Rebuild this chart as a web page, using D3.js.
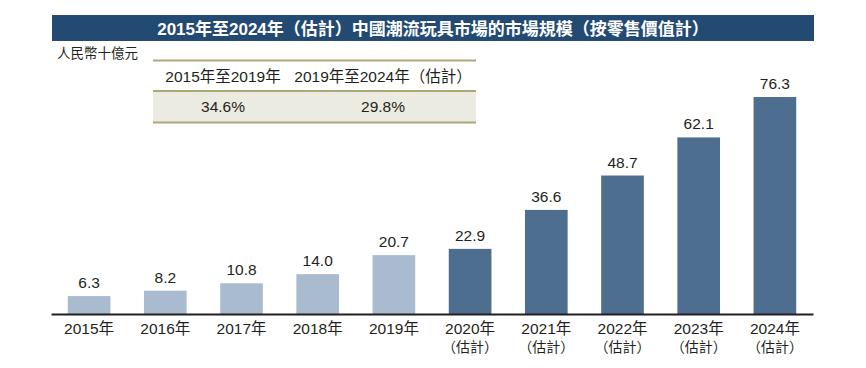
<!DOCTYPE html>
<html>
<head>
<meta charset="utf-8">
<script src="https://cdn.jsdelivr.net/npm/d3@7"></script>
<style>
  body { margin: 0; background: #fff; }
  svg text { font-family: "Liberation Sans", Arial, "Noto Sans CJK TC", sans-serif; fill: #231f20; }
</style>
</head>
<body>
<div id="chart"></div>
<script>
// 市場規模 (人民幣十億元)
var years = ["2015年","2016年","2017年","2018年","2019年","2020年","2021年","2022年","2023年","2024年"];
var values = [6.3, 8.2, 10.8, 14.0, 20.7, 22.9, 36.6, 48.7, 62.1, 76.3];
var estimated = [false, false, false, false, false, true, true, true, true, true];
var estLabel = "（估計）";

// 複合年增長率表
var cagrPeriods = ["2015年至2019年", "2019年至2024年（估計）"];
var cagrValues = ["34.6%", "29.8%"];

var titleText = "2015年至2024年（估計）中國潮流玩具市場的市場規模（按零售價值計）";
var unitText = "人民幣十億元";

var width = 866, height = 368;
var svg = d3.select("#chart").append("svg")
	.attr("width", width)
	.attr("height", height);

// title bar
svg.append("rect")
	.attr("x", 52).attr("y", 15)
	.attr("width", 762).attr("height", 26)
	.style("fill", "#234a72");
svg.append("text")
	.attr("x", 433).attr("y", 34.5)
	.attr("text-anchor", "middle")
	.style("font-size", "17px")
	.style("font-weight", "bold")
	.style("fill", "#fff")
	.text(titleText);

svg.append("text")
	.attr("x", 57).attr("y", 58)
	.style("font-size", "13.5px")
	.text(unitText);

// CAGR table
var colCenters = [223, 383];
svg.append("rect")
	.attr("x", 153).attr("y", 91)
	.attr("width", 323).attr("height", 31)
	.style("fill", "#ecebe2");
[60.5, 91, 122.5].forEach(function(yy){
	svg.append("line")
		.attr("x1", 153).attr("x2", 476)
		.attr("y1", yy).attr("y2", yy)
		.style("stroke", "#aea777")
		.style("stroke-width", 2);
});
svg.selectAll("text.cagrHead")
	.data(cagrPeriods)
	.enter().append("text")
	.attr("class", "cagrHead")
	.attr("x", function(d, i){ return colCenters[i]; })
	.attr("y", 81.5)
	.attr("text-anchor", "middle")
	.style("font-size", "15.5px")
	.text(function(d){ return d; });
svg.selectAll("text.cagrVal")
	.data(cagrValues)
	.enter().append("text")
	.attr("class", "cagrVal")
	.attr("x", function(d, i){ return colCenters[i]; })
	.attr("y", 112)
	.attr("text-anchor", "middle")
	.style("font-size", "15.5px")
	.text(function(d){ return d; });

// bars
var x = d3.scaleBand()
	.domain(years)
	.range([51, 813])
	.paddingInner(0.44)
	.paddingOuter(0.22);

var y = d3.scaleLinear()
	.domain([0, 80])
	.range([314, 86.5]);

var data = years.map(function(d, i){
	return { year: d, value: values[i], est: estimated[i] };
});

svg.selectAll("rect.bar")
	.data(data)
	.enter().append("rect")
	.attr("class", "bar")
	.attr("x", function(d){ return x(d.year); })
	.attr("y", function(d){ return y(d.value); })
	.attr("width", x.bandwidth())
	.attr("height", function(d){ return y(0) - y(d.value); })
	.style("fill", function(d){ return d.est ? "#4e6e90" : "#a9bbcf"; });

svg.selectAll("text.valLabel")
	.data(data)
	.enter().append("text")
	.attr("class", "valLabel")
	.attr("x", function(d){ return x(d.year) + x.bandwidth() / 2; })
	.attr("y", function(d){ return y(d.value) - 8; })
	.attr("text-anchor", "middle")
	.style("font-size", "15.5px")
	.text(function(d){ return d3.format(".1f")(d.value); });

// x axis
var xAxis = svg.append("g")
	.attr("transform", "translate(0," + y(0) + ")")
	.call(d3.axisBottom(x).tickSize(0).tickSizeOuter(0));

xAxis.select(".domain")
	.style("stroke", "#231f20")
	.style("stroke-width", 2);

xAxis.selectAll(".tick text")
	.attr("y", 20)
	.attr("dy", null)
	.style("font-size", "15.5px")
	.style("font-family", null)
	.style("fill", "#231f20")
	.each(function(d, i){
		var t = d3.select(this);
		t.text(null);
		t.append("tspan").attr("x", 0).text(d);
		if (estimated[i]) {
			t.append("tspan").attr("x", 0).attr("dy", 18)
				.style("font-size", "14px")
				.text(estLabel);
		}
	});
</script>
</body>
</html>
